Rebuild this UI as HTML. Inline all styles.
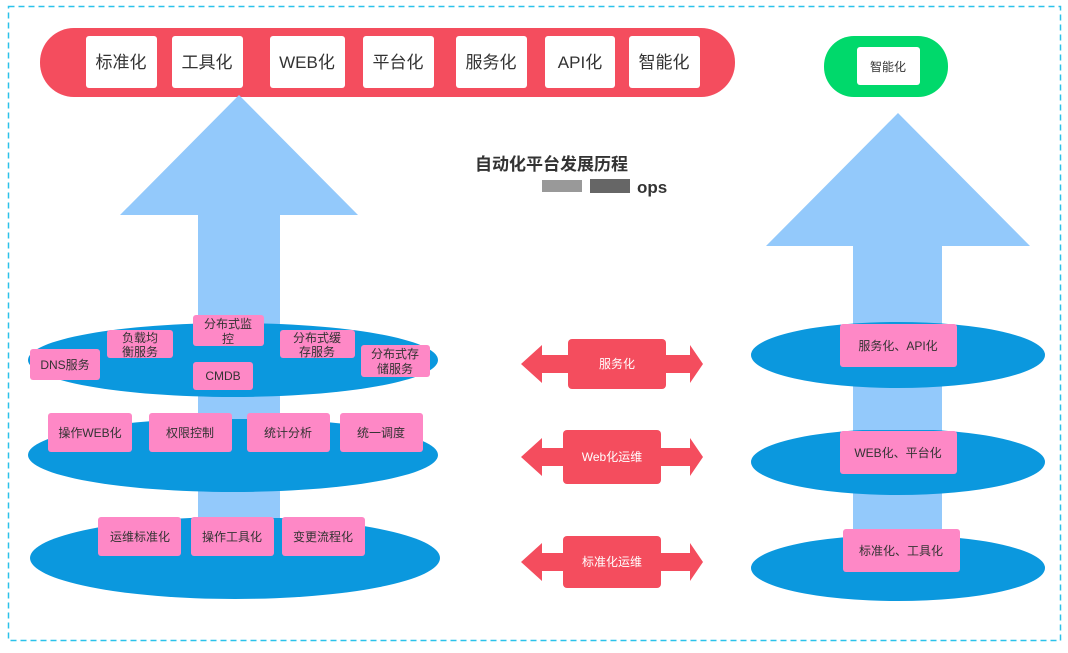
<!DOCTYPE html>
<html><head><meta charset="utf-8"><style>
html,body{margin:0;padding:0;background:#fff;}
svg text{font-family:"Liberation Sans","Noto Sans CJK SC",sans-serif;}
</style></head><body>
<svg width="1068" height="648" viewBox="0 0 1068 648" xmlns="http://www.w3.org/2000/svg">
<rect x="0" y="0" width="1068" height="648" fill="#fff"/>
<rect x="8.5" y="6.5" width="1052" height="634" fill="none" stroke="#2cc2ea" stroke-width="1.5" stroke-dasharray="6,4"/>
<!-- top red pill -->
<rect x="40" y="28" width="695" height="69" rx="34" fill="#f44d5e"/>
<g fill="#fff">
<rect x="86" y="36" width="71" height="52" rx="3"/>
<rect x="172" y="36" width="71" height="52" rx="3"/>
<rect x="270" y="36" width="75" height="52" rx="3"/>
<rect x="363" y="36" width="71" height="52" rx="3"/>
<rect x="456" y="36" width="71" height="52" rx="3"/>
<rect x="545" y="36" width="70" height="52" rx="3"/>
<rect x="629" y="36" width="71" height="52" rx="3"/>
</g>
<g font-size="17" fill="#333" text-anchor="middle">
<text x="121" y="68">标准化</text><text x="207" y="68">工具化</text><text x="307" y="68">WEB化</text>
<text x="398" y="68">平台化</text><text x="491" y="68">服务化</text><text x="580" y="68">API化</text><text x="664" y="68">智能化</text>
</g>
<rect x="824" y="36" width="124" height="61" rx="30" fill="#00d96b"/>
<rect x="857" y="47" width="63" height="38" rx="3" fill="#fff"/>
<text x="888" y="71" font-size="12" fill="#333" text-anchor="middle">智能化</text>
<!-- arrows -->
<polygon points="239,95 358,215 280,215 280,560 198,560 198,215 120,215" fill="#93c9fb"/>
<polygon points="898,113 1030,246 942,246 942,560 853,560 853,246 766,246" fill="#93c9fb"/>
<!-- title -->
<text x="475" y="170" font-size="17" font-weight="bold" fill="#333">自动化平台发展历程</text>
<rect x="542" y="180" width="40" height="12" fill="#999"/>
<rect x="590" y="179" width="40" height="14" fill="#666"/>
<text x="637" y="193" font-size="17" font-weight="bold" fill="#333">ops</text>
<!-- left ellipses -->
<g fill="#0b98de">
<ellipse cx="233" cy="360" rx="205" ry="37"/>
<ellipse cx="233" cy="455" rx="205" ry="37"/>
<ellipse cx="235" cy="558" rx="205" ry="41"/>
</g>
<rect x="198" y="397" width="82" height="22" fill="#93c9fb"/>
<rect x="198" y="492" width="82" height="26" fill="#93c9fb"/>
<g fill="#fe88c6">
<rect x="30" y="349" width="70" height="31" rx="3"/>
<rect x="107" y="330" width="66" height="28" rx="3"/>
<rect x="193" y="315" width="71" height="31" rx="3"/>
<rect x="193" y="362" width="60" height="28" rx="3"/>
<rect x="280" y="330" width="75" height="28" rx="3"/>
<rect x="361" y="345" width="69" height="32" rx="3"/>
<rect x="48" y="413" width="84" height="39" rx="3"/>
<rect x="149" y="413" width="83" height="39" rx="3"/>
<rect x="247" y="413" width="83" height="39" rx="3"/>
<rect x="340" y="413" width="83" height="39" rx="3"/>
<rect x="98" y="517" width="83" height="39" rx="3"/>
<rect x="191" y="517" width="83" height="39" rx="3"/>
<rect x="282" y="517" width="83" height="39" rx="3"/>
</g>
<g font-size="12" fill="#333" text-anchor="middle">
<text x="65" y="369">DNS服务</text>
<text x="140" y="342">负载均</text><text x="140" y="356">衡服务</text>
<text x="228" y="328">分布式监</text><text x="228" y="343">控</text>
<text x="223" y="380">CMDB</text>
<text x="317" y="342">分布式缓</text><text x="317" y="356">存服务</text>
<text x="395" y="358">分布式存</text><text x="395" y="373">储服务</text>
<text x="90" y="437">操作WEB化</text><text x="190" y="437">权限控制</text>
<text x="288" y="437">统计分析</text><text x="381" y="437">统一调度</text>
<text x="140" y="541">运维标准化</text><text x="232" y="541">操作工具化</text><text x="323" y="541">变更流程化</text>
</g>
<!-- middle double arrows -->
<g fill="#f44d5e">
<polygon points="521,364 542,345 542,355 690,355 690,345 703,364 690,383 690,373 542,373 542,383"/>
<rect x="568" y="339" width="98" height="50" rx="4"/>
<polygon points="521,457 542,438 542,448 690,448 690,438 703,457 690,476 690,466 542,466 542,476"/>
<rect x="563" y="430" width="98" height="54" rx="4"/>
<polygon points="521,562 542,543 542,553 690,553 690,543 703,562 690,581 690,571 542,571 542,581"/>
<rect x="563" y="536" width="98" height="52" rx="4"/>
</g>
<g font-size="12" fill="#fff" text-anchor="middle">
<text x="617" y="368">服务化</text><text x="612" y="461">Web化运维</text><text x="612" y="566">标准化运维</text>
</g>
<!-- right ellipses -->
<g fill="#0b98de">
<ellipse cx="898" cy="355" rx="147" ry="33"/>
<ellipse cx="898" cy="462" rx="147" ry="33"/>
<ellipse cx="898" cy="568" rx="147" ry="33"/>
</g>
<rect x="853" y="388" width="89" height="42" fill="#93c9fb"/>
<rect x="853" y="495" width="89" height="40" fill="#93c9fb"/>
<g fill="#fe88c6">
<rect x="840" y="324" width="117" height="43" rx="3"/>
<rect x="840" y="431" width="117" height="43" rx="3"/>
<rect x="843" y="529" width="117" height="43" rx="3"/>
</g>
<g font-size="12" fill="#333" text-anchor="middle">
<text x="898" y="350">服务化、API化</text><text x="898" y="457">WEB化、平台化</text><text x="901" y="555">标准化、工具化</text>
</g>
</svg>
</body></html>
